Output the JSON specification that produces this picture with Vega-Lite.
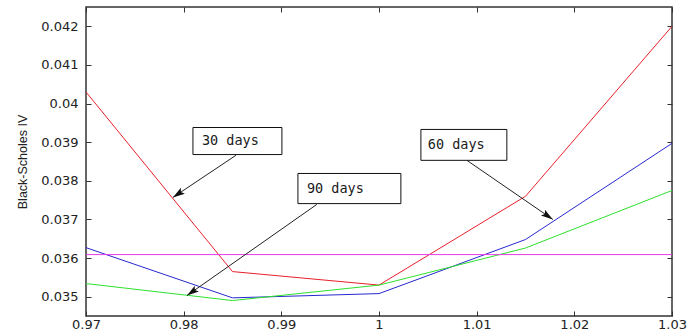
{
  "$schema": "https://vega.github.io/schema/vega-lite/v6.json",
  "width": 586,
  "height": 309,
  "autosize": {"type": "none"},
  "padding": {"left": 86, "top": 7, "right": 18, "bottom": 16},
  "background": "white",
  "config": {
    "view": {"stroke": "#333333", "strokeWidth": 1.5},
    "axis": {
      "domain": false,
      "grid": false,
      "tickSize": -5,
      "tickColor": "#333333",
      "tickWidth": 1,
      "labelFont": "DejaVu Sans",
      "labelFontSize": 13,
      "labelColor": "#222222",
      "titleFont": "Liberation Sans",
      "titleFontSize": 12.5,
      "titleFontWeight": "normal",
      "titleColor": "#222222"
    }
  },
  "datasets": {
    "series": [
      {"m": 0.97, "iv": 0.0403, "maturity": "30 days"},
      {"m": 0.985, "iv": 0.03565, "maturity": "30 days"},
      {"m": 1.0, "iv": 0.0353, "maturity": "30 days"},
      {"m": 1.015, "iv": 0.0376, "maturity": "30 days"},
      {"m": 1.03, "iv": 0.042, "maturity": "30 days"},
      {"m": 0.97, "iv": 0.03627, "maturity": "60 days"},
      {"m": 0.985, "iv": 0.03497, "maturity": "60 days"},
      {"m": 1.0, "iv": 0.03508, "maturity": "60 days"},
      {"m": 1.015, "iv": 0.03648, "maturity": "60 days"},
      {"m": 1.03, "iv": 0.03897, "maturity": "60 days"},
      {"m": 0.97, "iv": 0.03534, "maturity": "90 days"},
      {"m": 0.985, "iv": 0.0349, "maturity": "90 days"},
      {"m": 1.0, "iv": 0.0353, "maturity": "90 days"},
      {"m": 1.015, "iv": 0.03626, "maturity": "90 days"},
      {"m": 1.03, "iv": 0.03775, "maturity": "90 days"}
    ],
    "flat": [
      {"m": 0.97, "iv": 0.03609},
      {"m": 1.03, "iv": 0.03609}
    ],
    "notes": [
      {"label": "30 days", "bx1": 0.98095, "bx2": 0.99006, "by1": 0.03868, "by2": 0.03938, "tx": 0.98187, "ty": 0.03903, "ax1": 0.98535, "ay1": 0.03866, "ax2": 0.9789, "ay2": 0.03757},
      {"label": "90 days", "bx1": 0.9917, "bx2": 1.00224, "by1": 0.03741, "by2": 0.03819, "tx": 0.99262, "ty": 0.0378, "ax1": 0.99364, "ay1": 0.03739, "ax2": 0.98034, "ay2": 0.03503},
      {"label": "60 days", "bx1": 1.00429, "bx2": 1.01309, "by1": 0.03853, "by2": 0.03933, "tx": 1.005, "ty": 0.03893, "ax1": 1.009, "ay1": 0.03853, "ax2": 1.0178, "ay2": 0.037}
    ]
  },
  "layer": [
    {
      "data": {"name": "series"},
      "mark": {"type": "line", "strokeWidth": 1, "clip": true},
      "encoding": {
        "x": {
          "field": "m", "type": "quantitative",
          "scale": {"domain": [0.97, 1.03], "nice": false, "zero": false},
          "axis": {"orient": "bottom", "title": null, "values": [0.97, 0.98, 0.99, 1, 1.01, 1.02, 1.03], "format": "~g", "labelPadding": 7, "labelFlush": false}
        },
        "y": {
          "field": "iv", "type": "quantitative",
          "scale": {"domain": [0.0345, 0.0425], "nice": false, "zero": false},
          "axis": {"orient": "left", "title": "Black-Scholes IV", "values": [0.035, 0.036, 0.037, 0.038, 0.039, 0.04, 0.041, 0.042], "format": "~g", "labelPadding": 13, "titlePadding": 11}
        },
        "color": {
          "field": "maturity", "type": "nominal",
          "scale": {"domain": ["30 days", "60 days", "90 days"], "range": ["#e8202c", "#2828d0", "#2ee02e"]},
          "legend": null
        }
      }
    },
    {
      "data": {"name": "flat"},
      "mark": {"type": "line", "strokeWidth": 1, "color": "#e83ce8"},
      "encoding": {
        "x": {
          "field": "m", "type": "quantitative",
          "axis": {"orient": "top", "title": null, "labels": false, "values": [0.97, 0.98, 0.99, 1, 1.01, 1.02, 1.03]}
        },
        "y": {
          "field": "iv", "type": "quantitative",
          "axis": {"orient": "right", "title": null, "labels": false, "values": [0.035, 0.036, 0.037, 0.038, 0.039, 0.04, 0.041, 0.042]}
        }
      }
    },
    {
      "data": {"name": "notes"},
      "mark": {"type": "rect", "fill": "white", "stroke": "#111111", "strokeWidth": 1},
      "encoding": {
        "x": {"field": "bx1", "type": "quantitative", "axis": null},
        "x2": {"field": "bx2"},
        "y": {"field": "by1", "type": "quantitative", "axis": null},
        "y2": {"field": "by2"}
      }
    },
    {
      "data": {"name": "notes"},
      "mark": {"type": "text", "align": "left", "baseline": "middle", "font": "DejaVu Sans Mono", "fontSize": 13.5, "color": "#1a1a1a"},
      "encoding": {
        "x": {"field": "tx", "type": "quantitative", "axis": null},
        "y": {"field": "ty", "type": "quantitative", "axis": null},
        "text": {"field": "label"}
      }
    },
    {
      "data": {"name": "notes"},
      "mark": {"type": "rule", "color": "#222222", "strokeWidth": 1},
      "encoding": {
        "x": {"field": "ax1", "type": "quantitative", "axis": null},
        "y": {"field": "ay1", "type": "quantitative", "axis": null},
        "x2": {"field": "ax2"},
        "y2": {"field": "ay2"}
      }
    },
    {
      "data": {"name": "notes"},
      "transform": [{"filter": "datum.label === '30 days'"}],
      "mark": {"type": "point", "shape": "M0,0L-0.6,2L0,1.6L0.6,2Z", "filled": true, "color": "#111111", "size": 144, "angle": 236, "opacity": 1},
      "encoding": {
        "x": {"field": "ax2", "type": "quantitative", "axis": null},
        "y": {"field": "ay2", "type": "quantitative", "axis": null}
      }
    },
    {
      "data": {"name": "notes"},
      "transform": [{"filter": "datum.label === '90 days'"}],
      "mark": {"type": "point", "shape": "M0,0L-0.6,2L0,1.6L0.6,2Z", "filled": true, "color": "#111111", "size": 144, "angle": 235, "opacity": 1},
      "encoding": {
        "x": {"field": "ax2", "type": "quantitative", "axis": null},
        "y": {"field": "ay2", "type": "quantitative", "axis": null}
      }
    },
    {
      "data": {"name": "notes"},
      "transform": [{"filter": "datum.label === '60 days'"}],
      "mark": {"type": "point", "shape": "M0,0L-0.6,2L0,1.6L0.6,2Z", "filled": true, "color": "#111111", "size": 144, "angle": 124.5, "opacity": 1},
      "encoding": {
        "x": {"field": "ax2", "type": "quantitative", "axis": null},
        "y": {"field": "ay2", "type": "quantitative", "axis": null}
      }
    }
  ],
  "resolve": {"axis": {"x": "independent", "y": "independent"}}
}
